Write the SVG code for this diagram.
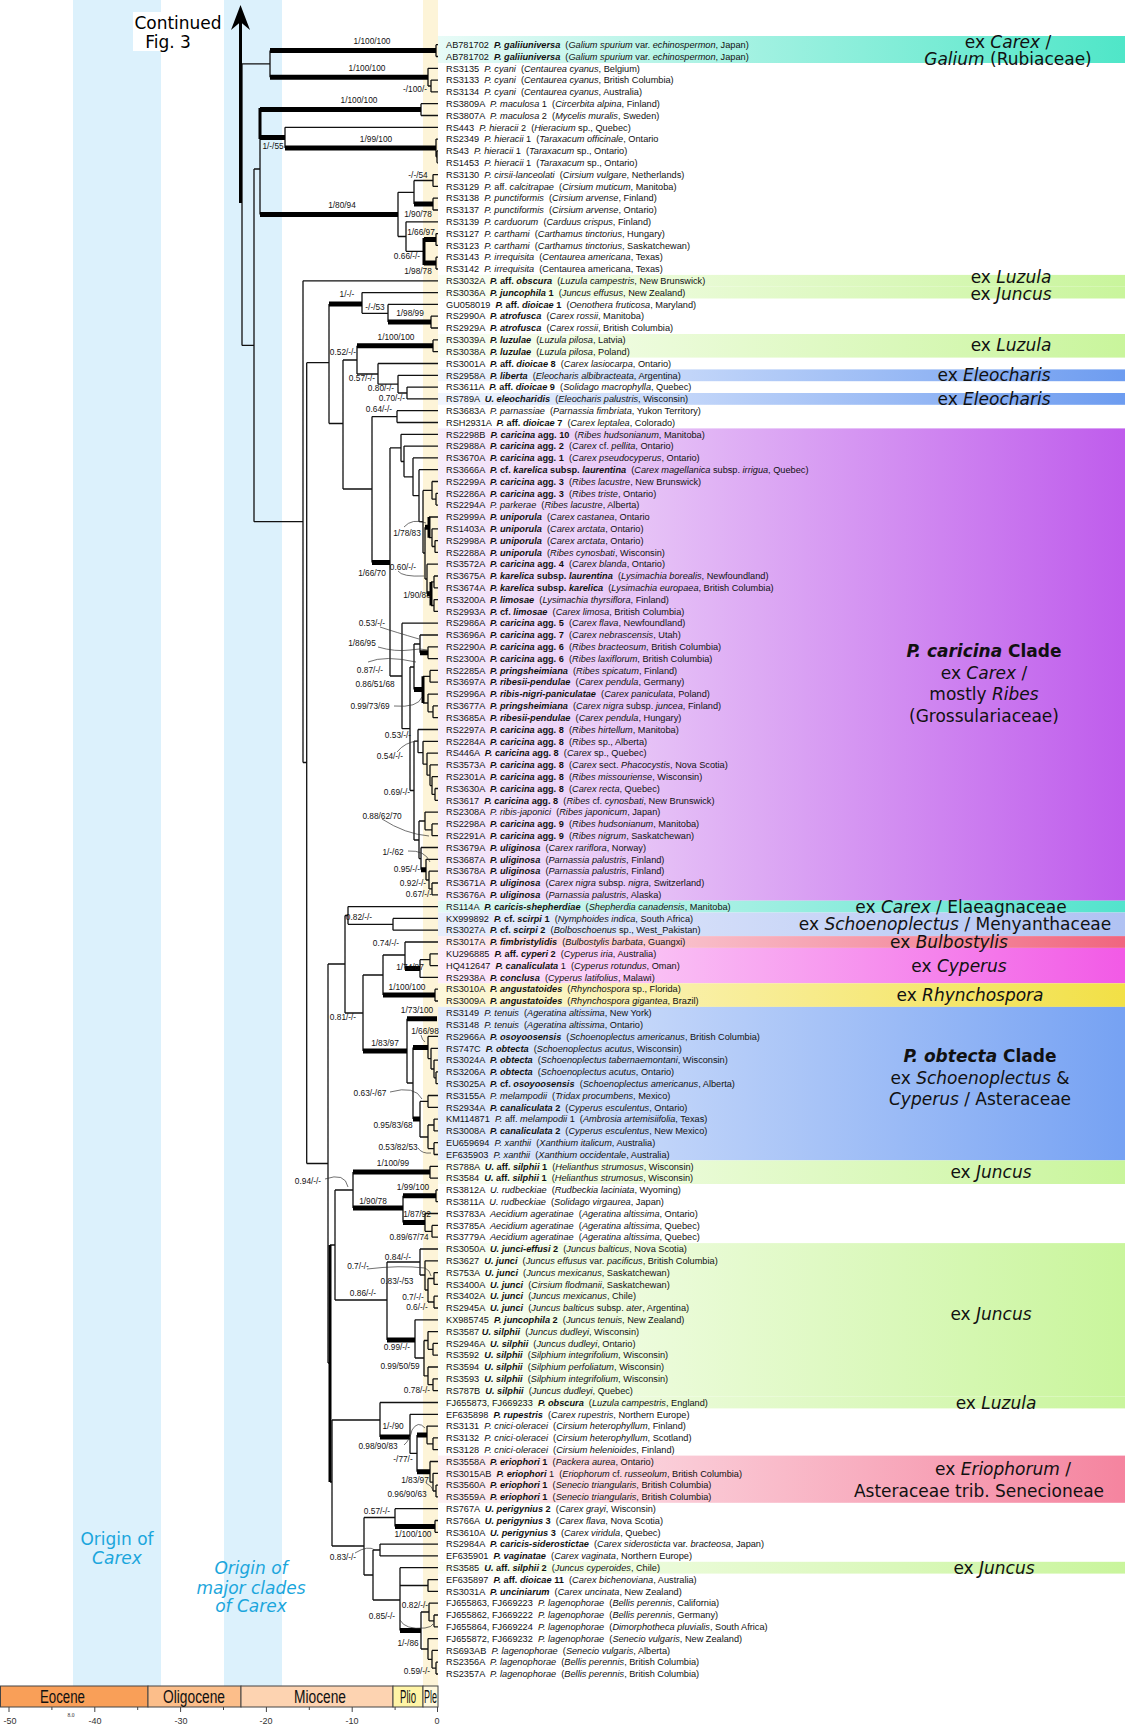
<svg xmlns="http://www.w3.org/2000/svg" width="1125" height="1724" viewBox="0 0 1125 1724">
<style>
.tx{font-family:"Liberation Sans",Arial,sans-serif;font-size:9.2px;fill:#111;white-space:pre}
.i{font-style:italic}.b{font-weight:bold}.bi{font-weight:bold;font-style:italic}
.sv{font-family:"Liberation Sans",Arial,sans-serif;font-size:8.3px;fill:#111;text-anchor:middle}
.cl{font-family:"DejaVu Sans",Verdana,sans-serif;font-size:17px;fill:#111;text-anchor:middle}
.thin{fill:none;stroke:#111;stroke-width:1.3}
.thick{fill:none;stroke:#000;stroke-width:5}
.tv{fill:none;stroke:#000;stroke-width:3}
.ld{fill:none;stroke:#333;stroke-width:0.7}
.geo{font-family:"Liberation Sans",Arial,sans-serif;font-size:18px;fill:#111;text-anchor:middle}
.ax{font-family:"Liberation Sans",Arial,sans-serif;font-size:9px;fill:#333;text-anchor:middle}
.bl{font-family:"DejaVu Sans",Verdana,sans-serif;font-size:17px;fill:#1ba6dc;text-anchor:middle}
</style>
<defs>
<linearGradient id="gTeal" gradientUnits="userSpaceOnUse" x1="438" y1="0" x2="1125" y2="0"><stop offset="0" stop-color="#e8fbf7"/><stop offset="1" stop-color="#4fe6c8"/></linearGradient>
<linearGradient id="gGreen" gradientUnits="userSpaceOnUse" x1="438" y1="0" x2="1125" y2="0"><stop offset="0" stop-color="#fbfef6"/><stop offset="1" stop-color="#c9f59c"/></linearGradient>
<linearGradient id="gEle" gradientUnits="userSpaceOnUse" x1="438" y1="0" x2="1125" y2="0"><stop offset="0" stop-color="#f2f6fe"/><stop offset="1" stop-color="#6d9cf0"/></linearGradient>
<linearGradient id="gPur" gradientUnits="userSpaceOnUse" x1="438" y1="0" x2="1125" y2="0"><stop offset="0" stop-color="#f7eefb"/><stop offset="1" stop-color="#bf5cec"/></linearGradient>
<linearGradient id="gTeal2" gradientUnits="userSpaceOnUse" x1="438" y1="0" x2="1125" y2="0"><stop offset="0" stop-color="#e3f9f4"/><stop offset="1" stop-color="#52e3cc"/></linearGradient>
<linearGradient id="gLb" gradientUnits="userSpaceOnUse" x1="438" y1="0" x2="1125" y2="0"><stop offset="0" stop-color="#e8eefc"/><stop offset="1" stop-color="#b0c2f3"/></linearGradient>
<linearGradient id="gBul" gradientUnits="userSpaceOnUse" x1="438" y1="0" x2="1125" y2="0"><stop offset="0" stop-color="#fdf0f3"/><stop offset="1" stop-color="#f0667f"/></linearGradient>
<linearGradient id="gCyp" gradientUnits="userSpaceOnUse" x1="438" y1="0" x2="1125" y2="0"><stop offset="0" stop-color="#fdeefb"/><stop offset="1" stop-color="#f25ae6"/></linearGradient>
<linearGradient id="gRhy" gradientUnits="userSpaceOnUse" x1="438" y1="0" x2="1125" y2="0"><stop offset="0" stop-color="#fdf8dc"/><stop offset="1" stop-color="#f2e046"/></linearGradient>
<linearGradient id="gObt" gradientUnits="userSpaceOnUse" x1="438" y1="0" x2="1125" y2="0"><stop offset="0" stop-color="#e4ecfc"/><stop offset="1" stop-color="#76a2f3"/></linearGradient>
<linearGradient id="gEri" gradientUnits="userSpaceOnUse" x1="438" y1="0" x2="1125" y2="0"><stop offset="0" stop-color="#fdf1f4"/><stop offset="1" stop-color="#f5849f"/></linearGradient>
</defs>
<rect width="1125" height="1724" fill="#fff"/>
<g id="time-bands">
<rect x="73" y="0" width="88" height="1686" fill="#dcf1fc"/>
<rect x="224" y="0" width="58" height="1686" fill="#dcf1fc"/>
<rect x="423" y="0" width="15" height="1686" fill="#fdf4d8"/>
<text class="bl" x="117" y="1545">Origin of</text>
<text class="bl i" x="117" y="1564">Carex</text>
<text class="bl i" x="251" y="1574">Origin of</text>
<text class="bl i" x="251" y="1594">major clades</text>
<text class="bl i" x="251" y="1612">of Carex</text>
</g>
<g id="host-bands">
<rect x="438" y="36" width="687" height="27" fill="url(#gTeal)"/>
<rect x="438" y="274.9" width="687" height="11.8" fill="url(#gGreen)"/>
<rect x="438" y="286.7" width="687" height="11.8" fill="url(#gGreen)"/>
<rect x="438" y="334" width="687" height="23.6" fill="url(#gGreen)"/>
<rect x="438" y="369.4" width="687" height="11.8" fill="url(#gEle)"/>
<rect x="438" y="393" width="687" height="11.8" fill="url(#gEle)"/>
<rect x="438" y="428.4" width="687" height="472.3" fill="url(#gPur)"/>
<rect x="438" y="900.7" width="687" height="11.8" fill="url(#gTeal2)"/>
<rect x="438" y="912.5" width="687" height="23.6" fill="url(#gLb)"/>
<rect x="438" y="936.1" width="687" height="11.8" fill="url(#gBul)"/>
<rect x="438" y="947.9" width="687" height="35.4" fill="url(#gCyp)"/>
<rect x="438" y="983.3" width="687" height="23.6" fill="url(#gRhy)"/>
<rect x="438" y="1006.9" width="687" height="153.5" fill="url(#gObt)"/>
<rect x="438" y="1160.4" width="687" height="23.6" fill="url(#gGreen)"/>
<rect x="438" y="1243.1" width="687" height="153.4" fill="url(#gGreen)"/>
<rect x="438" y="1396.5" width="687" height="11.9" fill="url(#gGreen)"/>
<rect x="438" y="1455.6" width="687" height="47.2" fill="url(#gEri)"/>
<rect x="438" y="1561.8" width="687" height="11.8" fill="url(#gGreen)"/>
</g>
<g id="continued">
<rect x="133" y="12" width="89" height="39" fill="#fff"/>
<text x="178" y="29" font-family="DejaVu Sans,Verdana,sans-serif" font-size="17" text-anchor="middle" fill="#000">Continued</text>
<text x="168" y="48" font-family="DejaVu Sans,Verdana,sans-serif" font-size="17" text-anchor="middle" fill="#000">Fig. 3</text>
<path d="M231 30L240.5 5L250 30L240.5 22Z" fill="#000"/>
</g>
<g id="connectors">
<path class="thin" d="M242 63.9V345.4M242 63.9H270M242 345.4H254M270 50.6V77.2M436 44.7V56.5M436 44.7H438M436 56.5H438M428 68.3V86M428 68.3H438M428 86H431M431 80.1V91.9M431 80.1H438M431 91.9H438M254 169V521.7M254 169H260M254 521.7H303M260 123.6V214.4M421 103.7V115.5M421 103.7H438M421 115.5H438M285 127.3V148M285 127.3H438M436 139.1V156.8M436 139.1H438M436 156.8H437M437 150.9V162.8M437 150.9H438M437 162.8H438M398 192.3V236.5M398 192.3H414M398 236.5H406M414 180.5V204.1M414 180.5H433M433 174.6V186.4M433 174.6H438M433 186.4H438M433 198.2V210M433 198.2H438M433 210H438M406 221.8V251.3M406 221.8H438M406 251.3H424M436 233.6V245.4M436 233.6H438M436 245.4H438M436 257.2V269M436 257.2H438M436 269H438M303 280.8V762.5M303 280.8H438M303 762.5H306.7M306.7 362.7V1163.5M306.7 362.7H329M306.7 1163.5H328M329 304V423.5M329 423.5H343M362 292.6V313.3M362 292.6H438M362 313.3H388M388 304.4V322.1M388 304.4H438M431 316.2V328M431 316.2H438M431 328H438M343 360V489M343 360H357M343 489H372M357 345.8V374M357 374H378M433 339.9V351.7M433 339.9H438M433 351.7H438M378 363.5V384.2M378 363.5H438M378 384.2H398M398 375.3V393M398 375.3H438M398 393H407M407 387.1V398.9M407 387.1H438M407 398.9H438M372 416.6V562.6M372 416.6H397M397 410.7V422.5M397 410.7H438M397 422.5H438M390 447.9V676M390 447.9H401M390 676H402M401 434.3V461.5M401 434.3H438M401 461.5H404M404 446.1V476.8M404 446.1H438M404 476.8H413M413 457.9V495.7M413 457.9H438M413 495.7H419M419 469.7V521.7M419 469.7H438M419 521.7H423M423 490.4V553M423 490.4H432M423 553H425M432 481.5V499.2M432 481.5H438M432 499.2H436M436 493.3V505.1M436 493.3H438M436 505.1H438M425 527.3V579M425 579H427M429 517H438M429 537.7H432M432 528.8V546.5M432 528.8H438M432 546.5H435M435 540.6V552.4M435 540.6H438M435 552.4H438M427 564.2V593.7M427 564.2H438M431 581.9H434M431 605.5H434M434 576V587.8M434 576H438M434 587.8H438M434 599.6V611.4M434 599.6H438M434 611.4H438M402 623.2V728.7M402 623.2H438M402 728.7H410M410 667V790.5M410 667H414M410 790.5H414M414 644V689.6M414 644H420M420 635V652.7M420 635H438M428 646.8V658.6M428 646.8H438M428 658.6H438M423 676.3H430M423 703H428M430 670.4V682.2M430 670.4H438M430 682.2H438M428 694.1V711.8M428 694.1H438M428 711.8H433M433 705.9V717.7M433 705.9H438M433 717.7H438M414 741.1V840M414 741.1H418M414 840H419M418 729.5V752.7M418 729.5H438M418 752.7H423M423 741.3V764.2M423 741.3H438M423 764.2H427M427 753.1V775.2M427 753.1H438M427 775.2H430M430 764.9V785.6M430 764.9H438M430 785.6H432M432 776.7V794.4M432 776.7H438M432 794.4H435M435 788.5V800.3M435 788.5H438M435 800.3H438M419 821V858.6M419 821H425M419 858.6H421M425 812.1V829.8M425 812.1H438M425 829.8H432M432 823.9V835.7M432 823.9H438M432 835.7H438M421 847.5V869.7M421 847.5H438M426 859.3V880M426 859.3H438M426 880H429M429 871.2V888.9M429 871.2H438M429 888.9H432M432 883V894.8M432 883H438M432 894.8H438M328 964V1363M328 964H345M328 1363H330M345 915.5V1013M345 915.5H348M345 1013H363M348 906.6V924.3M348 906.6H438M348 924.3H393M393 918.4V930.2M393 918.4H438M393 930.2H438M363 975V1051M363 975H383M383 955V995M383 955H405M405 942V968.5M405 942H438M420 959.7V977.4M420 959.7H430M420 977.4H438M430 953.8V965.6M430 953.8H438M430 965.6H438M435 989.2V1001M435 989.2H438M435 1001H438M407 1018.7V1083M407 1083H413M413 1047.5V1119M428 1036.4V1058.6M428 1036.4H438M428 1058.6H431M431 1048.3V1069M431 1048.3H438M431 1069H434M434 1060.1V1077.8M434 1060.1H438M434 1077.8H436M436 1071.9V1083.7M436 1071.9H438M436 1083.7H438M420 1101.4V1137M420 1101.4H428M420 1137H428M428 1095.5V1107.3M428 1095.5H438M428 1107.3H438M428 1125V1148.6M428 1125H434M428 1148.6H434M434 1119.1V1130.9M434 1119.1H438M434 1130.9H438M434 1142.7V1154.5M434 1142.7H438M434 1154.5H438M330 1245H335M330 1482H332M335 1190V1300M335 1190H353M335 1300H387M353 1172V1208M430 1166.3V1178.1M430 1166.3H438M430 1178.1H438M403 1195.8V1222.4M436 1189.9V1201.7M436 1189.9H438M436 1201.7H438M425 1213.5V1231.3M425 1213.5H438M425 1231.3H432M432 1225.4V1237.2M432 1225.4H438M432 1237.2H438M387 1262V1340M387 1262H420M420 1249V1275M420 1249H438M420 1275H425M425 1260.8V1290M425 1260.8H438M425 1290H428M428 1278.5V1302M428 1278.5H434M428 1302H434M434 1272.6V1284.4M434 1272.6H438M434 1284.4H438M434 1296.2V1308M434 1296.2H438M434 1308H438M415 1319.8V1358M415 1319.8H438M415 1358H424M424 1340.5V1375.9M424 1340.5H428M424 1375.9H428M428 1331.6V1349.3M428 1331.6H438M428 1349.3H433M433 1343.4V1355.2M433 1343.4H438M433 1355.2H438M428 1367V1384.7M428 1367H438M428 1384.7H433M433 1378.8V1390.6M433 1378.8H438M433 1390.6H438M332 1420V1546M332 1420H380M332 1546H364M380 1402.5V1437M380 1402.5H438M410 1414.3V1453.4M410 1414.3H438M410 1453.4H417M417 1435V1471.8M427 1426.1V1443.8M427 1426.1H438M427 1443.8H433M433 1437.9V1449.7M433 1437.9H438M433 1449.7H438M430 1461.5V1482.2M430 1461.5H438M430 1482.2H433M433 1473.3V1491M433 1473.3H438M433 1491H436M436 1485.1V1496.9M436 1485.1H438M436 1496.9H438M364 1517.5V1575M364 1517.5H395M364 1575H373M395 1508.7V1526.4M395 1508.7H438M435 1520.5V1532.3M435 1520.5H438M435 1532.3H438M373 1550V1600M373 1550H380M373 1600H400M380 1544.1V1555.9M380 1544.1H438M380 1555.9H438M400 1567.7V1630.5M400 1567.7H438M400 1585.5H428M428 1579.6V1591.4M428 1579.6H438M428 1591.4H438M421 1612V1649M421 1612H429M421 1649H428M429 1603.2V1620.9M429 1603.2H438M429 1620.9H434M434 1615V1626.8M434 1615H438M434 1626.8H438M428 1638.6V1659.3M428 1638.6H438M428 1659.3H432M432 1650.4V1668.1M432 1650.4H438M432 1668.1H436M436 1662.2V1674M436 1662.2H438M436 1674H438"/>
<path class="thick" d="M270 50.6H436M270 77.2H428M260 109.6H421M260 137.6H285M285 148H436M260 214.4H398M414 204.1H433M424 239.5H436M424 263.1H436M329 304H362M388 322.1H431M357 345.8H433M372 562.6H390M425 527.3H429M427 593.7H431M420 652.7H428M414 689.6H423M421 869.7H426M363 1051H407M383 995H435M405 968.5H420M407 1018.7H437M413 1047.5H428M413 1119H420M353 1172H430M353 1208H403M403 1195.8H436M403 1222.4H425M387 1340H415M380 1437H410M417 1435H427M417 1471.8H430M395 1526.4H435M400 1630.5H421"/>
<path class="tv" d="M260 108V139M424 238V265M429 517V537.7M431 581.9V605.5M423 676.3V703M330 1245V1482M240.5 14V203"/>
<path class="ld" d="M404 527Q412 518 426 523M398 571Q402 577 424 576M380 627Q395 632 419 639M378 647Q395 652 410 650Q420 648 428 650M368 662Q385 655 416 662M394 706Q418 708 422 697M397 752Q405 742 418 741M382 819Q405 834 429 836M408 851Q425 850 430 862M421 1035Q422 1040 425 1042M390 1092Q415 1085 422 1099M418 1148Q422 1154 431 1153M325 1179Q345 1172 348 1187M367 1269Q400 1265 425 1268Q430 1270 431 1276M404 1445Q410 1440 412 1430Q418 1420 425 1428M426 1483Q432 1486 433 1490M355 1553Q368 1545 375 1550M400 1620Q405 1630 425 1628Q432 1627 433 1624"/>
</g>
<g id="support-values">
<text class="sv" x="372" y="44">1/100/100</text><text class="sv" x="367" y="71">1/100/100</text><text class="sv" x="415" y="92">-/100/-</text><text class="sv" x="359" y="103">1/100/100</text><text class="sv" x="273" y="148.5">1/-/55</text><text class="sv" x="376" y="142">1/99/100</text><text class="sv" x="418" y="178">-/-/54</text><text class="sv" x="342" y="208">1/80/94</text><text class="sv" x="418" y="217">1/90/78</text><text class="sv" x="421" y="235">1/66/97</text><text class="sv" x="407" y="259">0.66/-/-</text><text class="sv" x="418" y="274">1/98/78</text><text class="sv" x="347" y="297">1/-/-</text><text class="sv" x="375" y="310">-/-/53</text><text class="sv" x="410" y="316">1/98/99</text><text class="sv" x="396" y="340">1/100/100</text><text class="sv" x="343" y="355">0.52/-/-</text><text class="sv" x="362" y="381">0.57/-/-</text><text class="sv" x="381" y="391">0.80/-/-</text><text class="sv" x="392" y="401">0.70/-/-</text><text class="sv" x="379" y="412">0.64/-/-</text>
<text class="sv" x="407" y="536">1/78/83</text><text class="sv" x="372" y="576">1/66/70</text><text class="sv" x="403" y="570">0.60/-/-</text><text class="sv" x="417" y="598">1/90/88</text><text class="sv" x="372" y="626">0.53/-/-</text><text class="sv" x="362" y="646">1/86/95</text><text class="sv" x="370" y="673">0.87/-/-</text><text class="sv" x="375" y="687">0.86/51/68</text><text class="sv" x="370" y="709">0.99/73/69</text><text class="sv" x="398" y="738">0.53/-/-</text><text class="sv" x="390" y="759">0.54/-/-</text><text class="sv" x="397" y="795">0.69/-/-</text><text class="sv" x="382" y="819">0.88/62/70</text><text class="sv" x="393" y="855">1/-/62</text><text class="sv" x="407" y="872">0.95/-/-</text><text class="sv" x="413" y="886">0.92/-/-</text><text class="sv" x="419" y="897">0.67/-/-</text>
<text class="sv" x="359" y="920">0.82/-/-</text><text class="sv" x="386" y="946">0.74/-/-</text><text class="sv" x="410" y="970">1/74/87</text><text class="sv" x="407" y="990">1/100/100</text><text class="sv" x="343" y="1020">0.81/-/-</text><text class="sv" x="417" y="1013">1/73/100</text><text class="sv" x="425" y="1034">1/66/98</text><text class="sv" x="385" y="1046">1/83/97</text><text class="sv" x="370" y="1096">0.63/-/67</text><text class="sv" x="393" y="1128">0.95/83/68</text><text class="sv" x="398" y="1150">0.53/82/53</text><text class="sv" x="393" y="1166">1/100/99</text><text class="sv" x="308" y="1184">0.94/-/-</text><text class="sv" x="413" y="1190">1/99/100</text><text class="sv" x="373" y="1204">1/90/78</text><text class="sv" x="417" y="1217">1/87/92</text><text class="sv" x="409" y="1240">0.89/67/74</text>
<text class="sv" x="398" y="1260">0.84/-/-</text><text class="sv" x="358" y="1269">0.7/-/-</text><text class="sv" x="397" y="1284">0.83/-/53</text><text class="sv" x="413" y="1300">0.7/-/-</text><text class="sv" x="363" y="1296">0.86/-/-</text><text class="sv" x="417" y="1310">0.6/-/-</text><text class="sv" x="397" y="1350">0.99/-/-</text><text class="sv" x="400" y="1369">0.99/50/59</text><text class="sv" x="417" y="1393">0.78/-/-</text><text class="sv" x="393" y="1429">1/-/90</text><text class="sv" x="378" y="1449">0.98/90/83</text><text class="sv" x="403" y="1462">-/77/-</text><text class="sv" x="415" y="1483">1/83/97</text><text class="sv" x="407" y="1497">0.96/90/63</text><text class="sv" x="377" y="1514">0.57/-/-</text><text class="sv" x="413" y="1537">1/100/100</text><text class="sv" x="343" y="1560">0.83/-/-</text><text class="sv" x="415" y="1608">0.82/-/-</text><text class="sv" x="382" y="1619">0.85/-/-</text><text class="sv" x="408" y="1646">1/-/86</text><text class="sv" x="417" y="1674">0.59/-/-</text>
</g>
<g id="taxa" xml:space="preserve">
<text id="t1" class="tx" x="446" y="47.9">AB781702  <tspan class="bi">P. galiiuniversa</tspan>  (<tspan class="i">Galium spurium</tspan> var. <tspan class="i">echinospermon</tspan>, Japan)</text>
<text id="t2" class="tx" x="446" y="59.7">AB781702  <tspan class="bi">P. galiiuniversa</tspan>  (<tspan class="i">Galium spurium</tspan> var. <tspan class="i">echinospermon</tspan>, Japan)</text>
<text id="t3" class="tx" x="446" y="71.5">RS3135  <tspan class="i">P. cyani</tspan>  (<tspan class="i">Centaurea cyanus</tspan>, Belgium)</text>
<text id="t4" class="tx" x="446" y="83.3">RS3133  <tspan class="i">P. cyani</tspan>  (<tspan class="i">Centaurea cyanus</tspan>, British Columbia)</text>
<text id="t5" class="tx" x="446" y="95.1">RS3134  <tspan class="i">P. cyani</tspan>  (<tspan class="i">Centaurea cyanus</tspan>, Australia)</text>
<text id="t6" class="tx" x="446" y="106.9">RS3809A  <tspan class="i">P. maculosa</tspan> 1  (<tspan class="i">Circerbita alpina</tspan>, Finland)</text>
<text id="t7" class="tx" x="446" y="118.7">RS3807A  <tspan class="i">P. maculosa</tspan> 2  (<tspan class="i">Mycelis muralis</tspan>, Sweden)</text>
<text id="t8" class="tx" x="446" y="130.5">RS443  <tspan class="i">P. hieracii</tspan> 2  (<tspan class="i">Hieracium</tspan> sp., Quebec)</text>
<text id="t9" class="tx" x="446" y="142.3">RS2349  <tspan class="i">P. hieracii</tspan> 1  (<tspan class="i">Taraxacum officinale</tspan>, Ontario</text>
<text id="t10" class="tx" x="446" y="154.2">RS43  <tspan class="i">P. hieracii</tspan> 1  (<tspan class="i">Taraxacum</tspan> sp., Ontario)</text>
<text id="t11" class="tx" x="446" y="166">RS1453  <tspan class="i">P. hieracii</tspan> 1  (<tspan class="i">Taraxacum</tspan> sp., Ontario)</text>
<text id="t12" class="tx" x="446" y="177.8">RS3130  <tspan class="i">P. cirsii-lanceolati</tspan>  (<tspan class="i">Cirsium vulgare</tspan>, Netherlands)</text>
<text id="t13" class="tx" x="446" y="189.6">RS3129  <tspan class="i">P.</tspan> aff. <tspan class="i">calcitrapae</tspan>  (<tspan class="i">Cirsium muticum</tspan>, Manitoba)</text>
<text id="t14" class="tx" x="446" y="201.4">RS3138  <tspan class="i">P. punctiformis</tspan>  (<tspan class="i">Cirsium arvense</tspan>, Finland)</text>
<text id="t15" class="tx" x="446" y="213.2">RS3137  <tspan class="i">P. punctiformis</tspan>  (<tspan class="i">Cirsium arvense</tspan>, Ontario)</text>
<text id="t16" class="tx" x="446" y="225">RS3139  <tspan class="i">P. carduorum</tspan>  (<tspan class="i">Carduus crispus</tspan>, Finland)</text>
<text id="t17" class="tx" x="446" y="236.8">RS3127  <tspan class="i">P. carthami</tspan>  (<tspan class="i">Carthamus tinctorius</tspan>, Hungary)</text>
<text id="t18" class="tx" x="446" y="248.6">RS3123  <tspan class="i">P. carthami</tspan>  (<tspan class="i">Carthamus tinctorius</tspan>, Saskatchewan)</text>
<text id="t19" class="tx" x="446" y="260.4">RS3143  <tspan class="i">P. irrequisita</tspan>  (<tspan class="i">Centaurea americana</tspan>, Texas)</text>
<text id="t20" class="tx" x="446" y="272.2">RS3142  <tspan class="i">P. irrequisita</tspan>  (Centaurea americana, Texas)</text>
<text id="t21" class="tx" x="446" y="284">RS3032A  <tspan class="bi">P.</tspan><tspan class="b"> aff. </tspan><tspan class="bi">obscura</tspan>  (<tspan class="i">Luzula campestris</tspan>, New Brunswick)</text>
<text id="t22" class="tx" x="446" y="295.8">RS3036A  <tspan class="bi">P. juncophila</tspan><tspan class="b"> 1</tspan>  (<tspan class="i">Juncus effusus</tspan>, New Zealand)</text>
<text id="t23" class="tx" x="446" y="307.6">GU058019  <tspan class="bi">P.</tspan><tspan class="b"> aff. </tspan><tspan class="bi">dioicae</tspan><tspan class="b"> 1</tspan>  (<tspan class="i">Oenothera fruticosa</tspan>, Maryland)</text>
<text id="t24" class="tx" x="446" y="319.4">RS2990A  <tspan class="bi">P. atrofusca</tspan>  (<tspan class="i">Carex rossii</tspan>, Manitoba)</text>
<text id="t25" class="tx" x="446" y="331.3">RS2929A  <tspan class="bi">P. atrofusca</tspan>  (<tspan class="i">Carex rossii</tspan>, British Columbia)</text>
<text id="t26" class="tx" x="446" y="343.1">RS3039A  <tspan class="bi">P. luzulae</tspan>  (<tspan class="i">Luzula pilosa</tspan>, Latvia)</text>
<text id="t27" class="tx" x="446" y="354.9">RS3038A  <tspan class="bi">P. luzulae</tspan>  (<tspan class="i">Luzula pilosa</tspan>, Poland)</text>
<text id="t28" class="tx" x="446" y="366.7">RS3001A  <tspan class="bi">P.</tspan><tspan class="b"> aff. </tspan><tspan class="bi">dioicae</tspan><tspan class="b"> 8</tspan>  (<tspan class="i">Carex lasiocarpa</tspan>, Ontario)</text>
<text id="t29" class="tx" x="446" y="378.5">RS2958A  <tspan class="bi">P. liberta</tspan>  (<tspan class="i">Eleocharis albibracteata</tspan>, Argentina)</text>
<text id="t30" class="tx" x="446" y="390.3">RS3611A  <tspan class="bi">P.</tspan><tspan class="b"> aff. </tspan><tspan class="bi">dioicae</tspan><tspan class="b"> 9</tspan>  (<tspan class="i">Solidago macrophylla</tspan>, Quebec)</text>
<text id="t31" class="tx" x="446" y="402.1">RS789A  <tspan class="bi">U. eleocharidis</tspan>  (<tspan class="i">Eleocharis palustris</tspan>, Wisconsin)</text>
<text id="t32" class="tx" x="446" y="413.9">RS3683A  <tspan class="i">P. parnassiae</tspan>  (<tspan class="i">Parnassia fimbriata</tspan>, Yukon Territory)</text>
<text id="t33" class="tx" x="446" y="425.7">RSH2931A  <tspan class="bi">P.</tspan><tspan class="b"> aff. </tspan><tspan class="bi">dioicae</tspan><tspan class="b"> 7</tspan>  (<tspan class="i">Carex leptalea</tspan>, Colorado)</text>
<text id="t34" class="tx" x="446" y="437.5">RS2298B  <tspan class="bi">P. caricina</tspan><tspan class="b"> agg. 10</tspan>  (<tspan class="i">Ribes hudsonianum</tspan>, Manitoba)</text>
<text id="t35" class="tx" x="446" y="449.3">RS2988A  <tspan class="bi">P. caricina</tspan><tspan class="b"> agg. 2</tspan>  (<tspan class="i">Carex</tspan> cf. <tspan class="i">pellita</tspan>, Ontario)</text>
<text id="t36" class="tx" x="446" y="461.1">RS3670A  <tspan class="bi">P. caricina</tspan><tspan class="b"> agg. 1</tspan>  (<tspan class="i">Carex pseudocyperus</tspan>, Ontario)</text>
<text id="t37" class="tx" x="446" y="472.9">RS3666A  <tspan class="bi">P.</tspan><tspan class="b"> cf. </tspan><tspan class="bi">karelica</tspan><tspan class="b"> subsp. </tspan><tspan class="bi">laurentina</tspan>  (<tspan class="i">Carex magellanica</tspan> subsp. <tspan class="i">irrigua</tspan>, Quebec)</text>
<text id="t38" class="tx" x="446" y="484.7">RS2299A  <tspan class="bi">P. caricina</tspan><tspan class="b"> agg. 3</tspan>  (<tspan class="i">Ribes lacustre</tspan>, New Brunswick)</text>
<text id="t39" class="tx" x="446" y="496.5">RS2286A  <tspan class="bi">P. caricina</tspan><tspan class="b"> agg. 3</tspan>  (<tspan class="i">Ribes triste</tspan>, Ontario)</text>
<text id="t40" class="tx" x="446" y="508.3">RS2294A  <tspan class="i">P. parkerae</tspan>  (<tspan class="i">Ribes lacustre</tspan>, Alberta)</text>
<text id="t41" class="tx" x="446" y="520.2">RS2999A  <tspan class="bi">P. uniporula</tspan>  (<tspan class="i">Carex castanea</tspan>, Ontario</text>
<text id="t42" class="tx" x="446" y="532">RS1403A  <tspan class="bi">P. uniporula</tspan>  (<tspan class="i">Carex arctata</tspan>, Ontario)</text>
<text id="t43" class="tx" x="446" y="543.8">RS2998A  <tspan class="bi">P. uniporula</tspan>  (<tspan class="i">Carex arctata</tspan>, Ontario)</text>
<text id="t44" class="tx" x="446" y="555.6">RS2288A  <tspan class="bi">P. uniporula</tspan>  (<tspan class="i">Ribes cynosbati</tspan>, Wisconsin)</text>
<text id="t45" class="tx" x="446" y="567.4">RS3572A  <tspan class="bi">P. caricina</tspan><tspan class="b"> agg. 4</tspan>  (<tspan class="i">Carex blanda</tspan>, Ontario)</text>
<text id="t46" class="tx" x="446" y="579.2">RS3675A  <tspan class="bi">P. karelica</tspan><tspan class="b"> subsp. </tspan><tspan class="bi">laurentina</tspan>  (<tspan class="i">Lysimachia borealis</tspan>, Newfoundland)</text>
<text id="t47" class="tx" x="446" y="591">RS3674A  <tspan class="bi">P. karelica</tspan><tspan class="b"> subsp. </tspan><tspan class="bi">karelica</tspan>  (<tspan class="i">Lysimachia europaea</tspan>, British Columbia)</text>
<text id="t48" class="tx" x="446" y="602.8">RS3200A  <tspan class="bi">P. limosae</tspan>  (<tspan class="i">Lysimachia thyrsiflora</tspan>, Finland)</text>
<text id="t49" class="tx" x="446" y="614.6">RS2993A  <tspan class="bi">P.</tspan><tspan class="b"> cf. </tspan><tspan class="bi">limosae</tspan>  (<tspan class="i">Carex limosa</tspan>, British Columbia)</text>
<text id="t50" class="tx" x="446" y="626.4">RS2986A  <tspan class="bi">P. caricina</tspan><tspan class="b"> agg. 5</tspan>  (<tspan class="i">Carex flava</tspan>, Newfoundland)</text>
<text id="t51" class="tx" x="446" y="638.2">RS3696A  <tspan class="bi">P. caricina</tspan><tspan class="b"> agg. 7</tspan>  (<tspan class="i">Carex nebrascensis</tspan>, Utah)</text>
<text id="t52" class="tx" x="446" y="650">RS2290A  <tspan class="bi">P. caricina</tspan><tspan class="b"> agg. 6</tspan>  (<tspan class="i">Ribes bracteosum</tspan>, British Columbia)</text>
<text id="t53" class="tx" x="446" y="661.8">RS2300A  <tspan class="bi">P. caricina</tspan><tspan class="b"> agg. 6</tspan>  (<tspan class="i">Ribes laxiflorum</tspan>, British Columbia)</text>
<text id="t54" class="tx" x="446" y="673.6">RS2285A  <tspan class="bi">P. pringsheimiana</tspan>  (<tspan class="i">Ribes spicatum</tspan>, Finland)</text>
<text id="t55" class="tx" x="446" y="685.4">RS3697A  <tspan class="bi">P. ribesii-pendulae</tspan>  (<tspan class="i">Carex pendula</tspan>, Germany)</text>
<text id="t56" class="tx" x="446" y="697.3">RS2996A  <tspan class="bi">P. ribis-nigri-paniculatae</tspan>  (<tspan class="i">Carex paniculata</tspan>, Poland)</text>
<text id="t57" class="tx" x="446" y="709.1">RS3677A  <tspan class="bi">P. pringsheimiana</tspan>  (<tspan class="i">Carex nigra</tspan> subsp. <tspan class="i">juncea</tspan>, Finland)</text>
<text id="t58" class="tx" x="446" y="720.9">RS3685A  <tspan class="bi">P. ribesii-pendulae</tspan>  (<tspan class="i">Carex pendula</tspan>, Hungary)</text>
<text id="t59" class="tx" x="446" y="732.7">RS2297A  <tspan class="bi">P. caricina</tspan><tspan class="b"> agg. 8</tspan>  (<tspan class="i">Ribes hirtellum</tspan>, Manitoba)</text>
<text id="t60" class="tx" x="446" y="744.5">RS2284A  <tspan class="bi">P. caricina</tspan><tspan class="b"> agg. 8</tspan>  (<tspan class="i">Ribes</tspan> sp., Alberta)</text>
<text id="t61" class="tx" x="446" y="756.3">RS446A  <tspan class="bi">P. caricina</tspan><tspan class="b"> agg. 8</tspan>  (<tspan class="i">Carex</tspan> sp., Quebec)</text>
<text id="t62" class="tx" x="446" y="768.1">RS3573A  <tspan class="bi">P. caricina</tspan><tspan class="b"> agg. 8</tspan>  (<tspan class="i">Carex</tspan> sect. <tspan class="i">Phacocystis</tspan>, Nova Scotia)</text>
<text id="t63" class="tx" x="446" y="779.9">RS2301A  <tspan class="bi">P. caricina</tspan><tspan class="b"> agg. 8</tspan>  (<tspan class="i">Ribes missouriense</tspan>, Wisconsin)</text>
<text id="t64" class="tx" x="446" y="791.7">RS3630A  <tspan class="bi">P. caricina</tspan><tspan class="b"> agg. 8</tspan>  (<tspan class="i">Carex recta</tspan>, Quebec)</text>
<text id="t65" class="tx" x="446" y="803.5">RS3617  <tspan class="bi">P. caricina</tspan><tspan class="b"> agg. 8</tspan>  (<tspan class="i">Ribes</tspan> cf. <tspan class="i">cynosbati</tspan>, New Brunswick)</text>
<text id="t66" class="tx" x="446" y="815.3">RS2308A  <tspan class="i">P. ribis-japonici</tspan>  (<tspan class="i">Ribes japonicum</tspan>, Japan)</text>
<text id="t67" class="tx" x="446" y="827.1">RS2298A  <tspan class="bi">P. caricina</tspan><tspan class="b"> agg. 9</tspan>  (<tspan class="i">Ribes hudsonianum</tspan>, Manitoba)</text>
<text id="t68" class="tx" x="446" y="838.9">RS2291A  <tspan class="bi">P. caricina</tspan><tspan class="b"> agg. 9</tspan>  (<tspan class="i">Ribes nigrum</tspan>, Saskatchewan)</text>
<text id="t69" class="tx" x="446" y="850.7">RS3679A  <tspan class="bi">P. uliginosa</tspan>  (<tspan class="i">Carex rariflora</tspan>, Norway)</text>
<text id="t70" class="tx" x="446" y="862.5">RS3687A  <tspan class="bi">P. uliginosa</tspan>  (<tspan class="i">Parnassia palustris</tspan>, Finland)</text>
<text id="t71" class="tx" x="446" y="874.4">RS3678A  <tspan class="bi">P. uliginosa</tspan>  (<tspan class="i">Parnassia palustris</tspan>, Finland)</text>
<text id="t72" class="tx" x="446" y="886.2">RS3671A  <tspan class="bi">P. uliginosa</tspan>  (<tspan class="i">Carex nigra</tspan> subsp. <tspan class="i">nigra</tspan>, Switzerland)</text>
<text id="t73" class="tx" x="446" y="898">RS3676A  <tspan class="bi">P. uliginosa</tspan>  (<tspan class="i">Parnassia palustris</tspan>, Alaska)</text>
<text id="t74" class="tx" x="446" y="909.8">RS114A  <tspan class="bi">P. caricis-shepherdiae</tspan>  (<tspan class="i">Shepherdia canadensis</tspan>, Manitoba)</text>
<text id="t75" class="tx" x="446" y="921.6">KX999892  <tspan class="bi">P.</tspan><tspan class="b"> cf. </tspan><tspan class="bi">scirpi</tspan><tspan class="b"> 1</tspan>  (<tspan class="i">Nymphoides indica</tspan>, South Africa)</text>
<text id="t76" class="tx" x="446" y="933.4">RS3027A  <tspan class="bi">P.</tspan><tspan class="b"> cf. </tspan><tspan class="bi">scirpi</tspan><tspan class="b"> 2</tspan>  (<tspan class="i">Bolboschoenus</tspan> sp., West_Pakistan)</text>
<text id="t77" class="tx" x="446" y="945.2">RS3017A  <tspan class="bi">P. fimbristylidis</tspan>  (<tspan class="i">Bulbostylis barbata</tspan>, Guangxi)</text>
<text id="t78" class="tx" x="446" y="957">KU296885  <tspan class="bi">P.</tspan><tspan class="b"> aff. </tspan><tspan class="bi">cyperi</tspan><tspan class="b"> 2</tspan>  (<tspan class="i">Cyperus iria</tspan>, Australia)</text>
<text id="t79" class="tx" x="446" y="968.8">HQ412647  <tspan class="bi">P. canaliculata</tspan> 1  (<tspan class="i">Cyperus rotundus</tspan>, Oman)</text>
<text id="t80" class="tx" x="446" y="980.6">RS2938A  <tspan class="bi">P. conclusa</tspan>  (<tspan class="i">Cyperus latifolius</tspan>, Malawi)</text>
<text id="t81" class="tx" x="446" y="992.4">RS3010A  <tspan class="bi">P. angustatoides</tspan>  (<tspan class="i">Rhynchospora</tspan> sp., Florida)</text>
<text id="t82" class="tx" x="446" y="1004.2">RS3009A  <tspan class="bi">P. angustatoides</tspan>  (<tspan class="i">Rhynchospora gigantea</tspan>, Brazil)</text>
<text id="t83" class="tx" x="446" y="1016">RS3149  <tspan class="i">P. tenuis</tspan>  (<tspan class="i">Ageratina altissima</tspan>, New York)</text>
<text id="t84" class="tx" x="446" y="1027.8">RS3148  <tspan class="i">P. tenuis</tspan>  (<tspan class="i">Ageratina altissima</tspan>, Ontario)</text>
<text id="t85" class="tx" x="446" y="1039.6">RS2966A  <tspan class="bi">P. osoyoosensis</tspan>  (<tspan class="i">Schoenoplectus americanus</tspan>, British Columbia)</text>
<text id="t86" class="tx" x="446" y="1051.5">RS747C  <tspan class="bi">P. obtecta</tspan>  (<tspan class="i">Schoenoplectus acutus</tspan>, Wisconsin)</text>
<text id="t87" class="tx" x="446" y="1063.3">RS3024A  <tspan class="bi">P. obtecta</tspan>  (<tspan class="i">Schoenoplectus tabernaemontani</tspan>, Wisconsin)</text>
<text id="t88" class="tx" x="446" y="1075.1">RS3206A  <tspan class="bi">P. obtecta</tspan>  (<tspan class="i">Schoenoplectus acutus</tspan>, Ontario)</text>
<text id="t89" class="tx" x="446" y="1086.9">RS3025A  <tspan class="bi">P.</tspan><tspan class="b"> cf. </tspan><tspan class="bi">osoyoosensis</tspan>  (<tspan class="i">Schoenoplectus americanus</tspan>, Alberta)</text>
<text id="t90" class="tx" x="446" y="1098.7">RS3155A  <tspan class="i">P. melampodii</tspan>  (<tspan class="i">Tridax procumbens</tspan>, Mexico)</text>
<text id="t91" class="tx" x="446" y="1110.5">RS2934A  <tspan class="bi">P. canaliculata</tspan><tspan class="b"> 2</tspan>  (<tspan class="i">Cyperus esculentus</tspan>, Ontario)</text>
<text id="t92" class="tx" x="446" y="1122.3">KM114871  <tspan class="i">P.</tspan> aff. <tspan class="i">melampodii</tspan> 1  (<tspan class="i">Ambrosia artemisiifolia</tspan>, Texas)</text>
<text id="t93" class="tx" x="446" y="1134.1">RS3008A  <tspan class="bi">P. canaliculata</tspan><tspan class="b"> 2</tspan>  (<tspan class="i">Cyperus esculentus</tspan>, New Mexico)</text>
<text id="t94" class="tx" x="446" y="1145.9">EU659694  <tspan class="i">P. xanthii</tspan>  (<tspan class="i">Xanthium italicum</tspan>, Australia)</text>
<text id="t95" class="tx" x="446" y="1157.7">EF635903  <tspan class="i">P. xanthii</tspan>  (<tspan class="i">Xanthium occidentale</tspan>, Australia)</text>
<text id="t96" class="tx" x="446" y="1169.5">RS788A  <tspan class="bi">U.</tspan><tspan class="b"> aff. </tspan><tspan class="bi">silphii</tspan><tspan class="b"> 1</tspan>  (<tspan class="i">Helianthus strumosus</tspan>, Wisconsin)</text>
<text id="t97" class="tx" x="446" y="1181.3">RS3584  <tspan class="bi">U.</tspan><tspan class="b"> aff. </tspan><tspan class="bi">silphii</tspan><tspan class="b"> 1</tspan>  (<tspan class="i">Helianthus strumosus</tspan>, Wisconsin)</text>
<text id="t98" class="tx" x="446" y="1193.1">RS3812A  <tspan class="i">U. rudbeckiae</tspan>  (<tspan class="i">Rudbeckia laciniata</tspan>, Wyoming)</text>
<text id="t99" class="tx" x="446" y="1204.9">RS3811A  <tspan class="i">U. rudbeckiae</tspan>  (<tspan class="i">Solidago virgaurea</tspan>, Japan)</text>
<text id="t100" class="tx" x="446" y="1216.7">RS3783A  <tspan class="i">Aecidium ageratinae</tspan>  (<tspan class="i">Ageratina altissima</tspan>, Ontario)</text>
<text id="t101" class="tx" x="446" y="1228.6">RS3785A  <tspan class="i">Aecidium ageratinae</tspan>  (<tspan class="i">Ageratina altissima</tspan>, Quebec)</text>
<text id="t102" class="tx" x="446" y="1240.4">RS3779A  <tspan class="i">Aecidium ageratinae</tspan>  (<tspan class="i">Ageratina altissima</tspan>, Quebec)</text>
<text id="t103" class="tx" x="446" y="1252.2">RS3050A  <tspan class="bi">U. junci-effusi</tspan><tspan class="b"> 2</tspan>  (<tspan class="i">Juncus balticus</tspan>, Nova Scotia)</text>
<text id="t104" class="tx" x="446" y="1264">RS3627  <tspan class="bi">U. junci</tspan>  (<tspan class="i">Juncus effusus</tspan> var. <tspan class="i">pacificus</tspan>, British Columbia)</text>
<text id="t105" class="tx" x="446" y="1275.8">RS753A  <tspan class="bi">U. junci</tspan>  (<tspan class="i">Juncus mexicanus</tspan>, Saskatchewan)</text>
<text id="t106" class="tx" x="446" y="1287.6">RS3400A  <tspan class="bi">U. junci</tspan>  (<tspan class="i">Cirsium flodmanii</tspan>, Saskatchewan)</text>
<text id="t107" class="tx" x="446" y="1299.4">RS3402A  <tspan class="bi">U. junci</tspan>  (<tspan class="i">Juncus mexicanus</tspan>, Chile)</text>
<text id="t108" class="tx" x="446" y="1311.2">RS2945A  <tspan class="bi">U. junci</tspan>  (<tspan class="i">Juncus balticus</tspan> subsp. <tspan class="i">ater</tspan>, Argentina)</text>
<text id="t109" class="tx" x="446" y="1323">KX985745  <tspan class="bi">P. juncophila</tspan><tspan class="b"> 2</tspan>  (<tspan class="i">Juncus tenuis</tspan>, New Zealand)</text>
<text id="t110" class="tx" x="446" y="1334.8">RS3587 <tspan class="bi">U. silphii</tspan>  (<tspan class="i">Juncus dudleyi</tspan>, Wisconsin)</text>
<text id="t111" class="tx" x="446" y="1346.6">RS2946A  <tspan class="bi">U. silphii</tspan>  (<tspan class="i">Juncus dudleyi</tspan>, Ontario)</text>
<text id="t112" class="tx" x="446" y="1358.4">RS3592  <tspan class="bi">U. silphii</tspan>  (<tspan class="i">Silphium integrifolium</tspan>, Wisconsin)</text>
<text id="t113" class="tx" x="446" y="1370.2">RS3594  <tspan class="bi">U. silphii</tspan>  (<tspan class="i">Silphium perfoliatum</tspan>, Wisconsin)</text>
<text id="t114" class="tx" x="446" y="1382">RS3593  <tspan class="bi">U. silphii</tspan>  (<tspan class="i">Silphium integrifolium</tspan>, Wisconsin)</text>
<text id="t115" class="tx" x="446" y="1393.8">RS787B  <tspan class="bi">U. silphii</tspan>  (<tspan class="i">Juncus dudleyi</tspan>, Quebec)</text>
<text id="t116" class="tx" x="446" y="1405.7">FJ655873, FJ669233  <tspan class="bi">P. obscura</tspan>  (<tspan class="i">Luzula campestris</tspan>, England)</text>
<text id="t117" class="tx" x="446" y="1417.5">EF635898  <tspan class="bi">P. rupestris</tspan>  (<tspan class="i">Carex rupestris</tspan>, Northern Europe)</text>
<text id="t118" class="tx" x="446" y="1429.3">RS3131  <tspan class="i">P. cnici-oleracei</tspan>  (<tspan class="i">Cirsium heterophyllum</tspan>, Finland)</text>
<text id="t119" class="tx" x="446" y="1441.1">RS3132  <tspan class="i">P. cnici-oleracei</tspan>  (<tspan class="i">Cirsium heterophyllum</tspan>, Scotland)</text>
<text id="t120" class="tx" x="446" y="1452.9">RS3128  <tspan class="i">P. cnici-oleracei</tspan>  (<tspan class="i">Cirsium helenioides</tspan>, Finland)</text>
<text id="t121" class="tx" x="446" y="1464.7">RS3558A  <tspan class="bi">P. eriophori</tspan><tspan class="b"> 1</tspan>  (<tspan class="i">Packera aurea</tspan>, Ontario)</text>
<text id="t122" class="tx" x="446" y="1476.5">RS3015AB  <tspan class="bi">P. eriophori</tspan> 1  (<tspan class="i">Eriophorum</tspan> cf. <tspan class="i">russeolum</tspan>, British Columbia)</text>
<text id="t123" class="tx" x="446" y="1488.3">RS3560A  <tspan class="bi">P. eriophori</tspan><tspan class="b"> 1</tspan>  (<tspan class="i">Senecio triangularis</tspan>, British Columbia)</text>
<text id="t124" class="tx" x="446" y="1500.1">RS3559A  <tspan class="bi">P. eriophori</tspan><tspan class="b"> 1</tspan>  (<tspan class="i">Senecio triangularis</tspan>, British Columbia)</text>
<text id="t125" class="tx" x="446" y="1511.9">RS767A  <tspan class="bi">U. perigynius</tspan><tspan class="b"> 2</tspan>  (<tspan class="i">Carex grayi</tspan>, Wisconsin)</text>
<text id="t126" class="tx" x="446" y="1523.7">RS766A  <tspan class="bi">U. perigynius</tspan><tspan class="b"> 3</tspan>  (<tspan class="i">Carex flava</tspan>, Nova Scotia)</text>
<text id="t127" class="tx" x="446" y="1535.5">RS3610A  <tspan class="bi">U. perigynius</tspan><tspan class="b"> 3</tspan>  (<tspan class="i">Carex viridula</tspan>, Quebec)</text>
<text id="t128" class="tx" x="446" y="1547.3">RS2984A  <tspan class="bi">P. caricis-siderostictae</tspan>  (<tspan class="i">Carex siderosticta</tspan> var. <tspan class="i">bracteosa</tspan>, Japan)</text>
<text id="t129" class="tx" x="446" y="1559.1">EF635901  <tspan class="bi">P. vaginatae</tspan>  (<tspan class="i">Carex vaginata</tspan>, Northern Europe)</text>
<text id="t130" class="tx" x="446" y="1570.9">RS3585  <tspan class="bi">U.</tspan><tspan class="b"> aff. </tspan><tspan class="bi">silphii</tspan><tspan class="b"> 2</tspan>  (<tspan class="i">Juncus cyperoides</tspan>, Chile)</text>
<text id="t131" class="tx" x="446" y="1582.8">EF635897  <tspan class="bi">P.</tspan><tspan class="b"> aff. </tspan><tspan class="bi">dioicae</tspan><tspan class="b"> 11</tspan>  (<tspan class="i">Carex bichenoviana</tspan>, Australia)</text>
<text id="t132" class="tx" x="446" y="1594.6">RS3031A  <tspan class="bi">P. unciniarum</tspan>  (<tspan class="i">Carex uncinata</tspan>, New Zealand)</text>
<text id="t133" class="tx" x="446" y="1606.4">FJ655863, FJ669223  <tspan class="i">P. lagenophorae</tspan>  (<tspan class="i">Bellis perennis</tspan>, California)</text>
<text id="t134" class="tx" x="446" y="1618.2">FJ655862, FJ669222  <tspan class="i">P. lagenophorae</tspan>  (<tspan class="i">Bellis perennis</tspan>, Germany)</text>
<text id="t135" class="tx" x="446" y="1630">FJ655864, FJ669224  <tspan class="i">P. lagenophorae</tspan>  (<tspan class="i">Dimorphotheca pluvialis</tspan>, South Africa)</text>
<text id="t136" class="tx" x="446" y="1641.8">FJ655872, FJ669232  <tspan class="i">P. lagenophorae</tspan>  (<tspan class="i">Senecio vulgaris</tspan>, New Zealand)</text>
<text id="t137" class="tx" x="446" y="1653.6">RS693AB  <tspan class="i">P. lagenophorae</tspan>  (<tspan class="i">Senecio vulgaris</tspan>, Alberta)</text>
<text id="t138" class="tx" x="446" y="1665.4">RS2356A  <tspan class="i">P. lagenophorae</tspan>  (<tspan class="i">Bellis perennis</tspan>, British Columbia)</text>
<text id="t139" class="tx" x="446" y="1677.2">RS2357A  <tspan class="i">P. lagenophorae</tspan>  (<tspan class="i">Bellis perennis</tspan>, British Columbia)</text>
</g>
<g id="clade-labels">
<g id="cl-galium"><text class="cl" x="1008" y="48">ex <tspan class="i">Carex</tspan> /</text><text class="cl" x="1008" y="65"><tspan class="i">Galium</tspan> (Rubiaceae)</text></g>
<g id="cl-luzula1"><text class="cl" x="1011" y="282.5">ex <tspan class="i">Luzula</tspan></text></g>
<g id="cl-juncus1"><text class="cl" x="1011" y="300">ex <tspan class="i">Juncus</tspan></text></g>
<g id="cl-luzula2"><text class="cl" x="1011" y="351">ex <tspan class="i">Luzula</tspan></text></g>
<g id="cl-eleo1"><text class="cl" x="994" y="381">ex <tspan class="i">Eleocharis</tspan></text></g>
<g id="cl-eleo2"><text class="cl" x="994" y="404.5">ex <tspan class="i">Eleocharis</tspan></text></g>
<g id="cl-caricina"><text class="cl" x="984" y="657"><tspan class="bi">P. caricina</tspan><tspan class="b"> Clade</tspan></text><text class="cl" x="984" y="679">ex <tspan class="i">Carex</tspan> /</text><text class="cl" x="984" y="700">mostly <tspan class="i">Ribes</tspan></text><text class="cl" x="984" y="722">(Grossulariaceae)</text></g>
<g id="cl-elaeag"><text class="cl" x="961" y="912.6">ex <tspan class="i">Carex</tspan> / Elaeagnaceae</text></g>
<g id="cl-schoeno"><text class="cl" x="955" y="930">ex <tspan class="i">Schoenoplectus</tspan> / Menyanthaceae</text></g>
<g id="cl-bulbo"><text class="cl" x="949" y="948">ex <tspan class="i">Bulbostylis</tspan></text></g>
<g id="cl-cyperus"><text class="cl" x="959" y="971.6">ex <tspan class="i">Cyperus</tspan></text></g>
<g id="cl-rhyncho"><text class="cl" x="970" y="1001">ex <tspan class="i">Rhynchospora</tspan></text></g>
<g id="cl-obtecta"><text class="cl" x="980" y="1062"><tspan class="bi">P. obtecta</tspan><tspan class="b"> Clade</tspan></text><text class="cl" x="980" y="1084">ex <tspan class="i">Schoenoplectus</tspan> &amp;</text><text class="cl" x="980" y="1105"><tspan class="i">Cyperus</tspan> / Asteraceae</text></g>
<g id="cl-juncus2"><text class="cl" x="991" y="1178">ex <tspan class="i">Juncus</tspan></text></g>
<g id="cl-juncus3"><text class="cl" x="991" y="1320">ex <tspan class="i">Juncus</tspan></text></g>
<g id="cl-luzula3"><text class="cl" x="996" y="1408.5">ex <tspan class="i">Luzula</tspan></text></g>
<g id="cl-erioph"><text class="cl" x="1003" y="1475">ex <tspan class="i">Eriophorum</tspan> /</text><text class="cl" x="979" y="1497">Asteraceae trib. Senecioneae</text></g>
<g id="cl-juncus4"><text class="cl" x="994" y="1574">ex <tspan class="i">Juncus</tspan></text></g>
</g>
<g id="timescale">
<rect x="0.5" y="1686" width="147.5" height="21" fill="#f99f58" stroke="#444"/>
<rect x="148" y="1686" width="93" height="21" fill="#fcbe8a" stroke="#444"/>
<rect x="241" y="1686" width="152" height="21" fill="#fdd3b1" stroke="#444"/>
<rect x="393" y="1686" width="30" height="21" fill="#fff4a6" stroke="#444"/>
<rect x="423" y="1686" width="15" height="21" fill="#fff8dc" stroke="#444"/>
<text class="geo" x="62.5" y="1703" textLength="45" lengthAdjust="spacingAndGlyphs">Eocene</text>
<text class="geo" x="194" y="1703" textLength="62" lengthAdjust="spacingAndGlyphs">Oligocene</text>
<text class="geo" x="320" y="1703" textLength="52" lengthAdjust="spacingAndGlyphs">Miocene</text>
<text class="geo" x="408" y="1703" font-size="15" textLength="16" lengthAdjust="spacingAndGlyphs">Plio</text>
<text class="geo" x="430.5" y="1703" font-size="14" textLength="13" lengthAdjust="spacingAndGlyphs">Ple</text>
<path d="M9 1707V1712M94.8 1707V1712M180.6 1707V1712M266.4 1707V1712M352.2 1707V1712M437.5 1707V1712M51.9 1707V1710M137.7 1707V1710M223.5 1707V1710M309.3 1707V1710M395.1 1707V1710" stroke="#444" stroke-width="1"/>
<text class="ax" x="10" y="1723.5">-50</text>
<text class="ax" x="95" y="1723.5">-40</text>
<text class="ax" x="181" y="1723.5">-30</text>
<text class="ax" x="266" y="1723.5">-20</text>
<text class="ax" x="352" y="1723.5">-10</text>
<text class="ax" x="437" y="1723.5">0</text>
<text x="71" y="1717" font-family="Liberation Serif,serif" font-size="5.5" fill="#333" text-anchor="middle">8.0</text>
</g>
</svg>
